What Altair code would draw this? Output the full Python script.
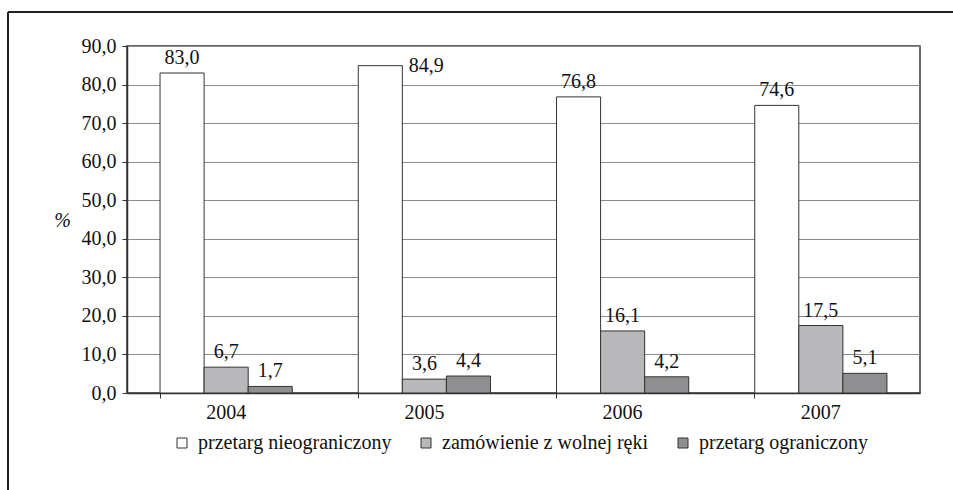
import altair as alt
import pandas as pd

years = ["2004", "2005", "2006", "2007"]
series = ["przetarg nieograniczony", "zamówienie z wolnej ręki", "przetarg ograniczony"]
nieograniczony = [83.0, 84.9, 76.8, 74.6]
wolna_reka = [6.7, 3.6, 16.1, 17.5]
ograniczony = [1.7, 4.4, 4.2, 5.1]
colors = ["#ffffff", "#b8b8bb", "#8f8f92"]
y_ticks = [0, 10, 20, 30, 40, 50, 60, 70, 80, 90]

rows = []
for s, vals in zip(series, [nieograniczony, wolna_reka, ograniczony]):
    for y, v in zip(years, vals):
        rows.append({"year": y, "series": s, "value": v,
                     "label": f"{v:.1f}".replace(".", ",")})
df = pd.DataFrame(rows)

FONT = "'Liberation Serif', 'Times New Roman', 'DejaVu Serif', serif"
W, H = 793, 347

base = alt.Chart(df).encode(
    x=alt.X("year:N", sort=years,
            scale=alt.Scale(paddingInner=0.333, paddingOuter=0.1667),
            axis=alt.Axis(title=None, bandPosition=0, labelAngle=0,
                          labelFont=FONT, labelFontSize=20, labelColor="#111",
                          labelPadding=4, tickSize=5, tickColor="#333",
                          domainColor="#333", domainWidth=1.5, grid=False)),
    xOffset=alt.XOffset("series:N", sort=series,
                        scale=alt.Scale(paddingInner=0, paddingOuter=0)),
    y=alt.Y("value:Q", scale=alt.Scale(domain=[0, 90], nice=False),
            axis=alt.Axis(values=y_ticks, title="%", titleAngle=0, titleX=-65, titleY=174,
                          titleAlign="center", titleBaseline="middle",
                          titleFont=FONT, titleFontSize=20, titleFontStyle="italic",
                          titleFontWeight="normal", titleColor="#111",
                          labelExpr="replace(format(datum.value, '.1f'), '.', ',')",
                          labelFont=FONT, labelFontSize=20, labelColor="#111",
                          labelPadding=6, tickSize=5, tickColor="#333",
                          domainColor="#333", domainWidth=1.5,
                          grid=True, gridColor="#8a8a8a", gridWidth=1)),
)

bars = base.mark_bar(stroke="#333", strokeWidth=1).encode(
    color=alt.Color("series:N", sort=series,
                    scale=alt.Scale(domain=series, range=colors),
                    legend=alt.Legend(title=None, orient="none", legendX=45, legendY=387,
                                      direction="horizontal", symbolType="square",
                                      symbolSize=100, symbolStrokeColor="#333",
                                      symbolStrokeWidth=1, labelFont=FONT,
                                      labelFontSize=20, labelColor="#111",
                                      labelOffset=6, columnPadding=24, labelLimit=400))
)

labels = base.mark_text(font=FONT, fontSize=20, color="#111", baseline="alphabetic",
                        dy=-9).encode(text="label:N").transform_filter("datum.value < 84")

label_high = base.mark_text(font=FONT, fontSize=20, color="#111", baseline="middle",
                            dx=46).encode(text="label:N").transform_filter("datum.value >= 84")

frame_v = alt.Chart(df).mark_rule(color="#222", strokeWidth=1.5).encode(
    x=alt.value(-119), y=alt.value(-34), y2=alt.value(H + 120))
frame_h = alt.Chart(df).mark_rule(color="#222", strokeWidth=1.5).encode(
    y=alt.value(-34), x=alt.value(-119), x2=alt.value(W + 40))

chart = alt.layer(bars, labels, label_high, frame_v, frame_h).properties(
    width=W, height=H,
    autosize=alt.AutoSizeParams(type="none"),
    padding={"left": 127, "top": 46, "right": 33, "bottom": 97},
    background="white",
).configure_view(stroke="#333", strokeWidth=1.5)

chart.save("out.html", embed_options={"renderer": "svg", "actions": False})
